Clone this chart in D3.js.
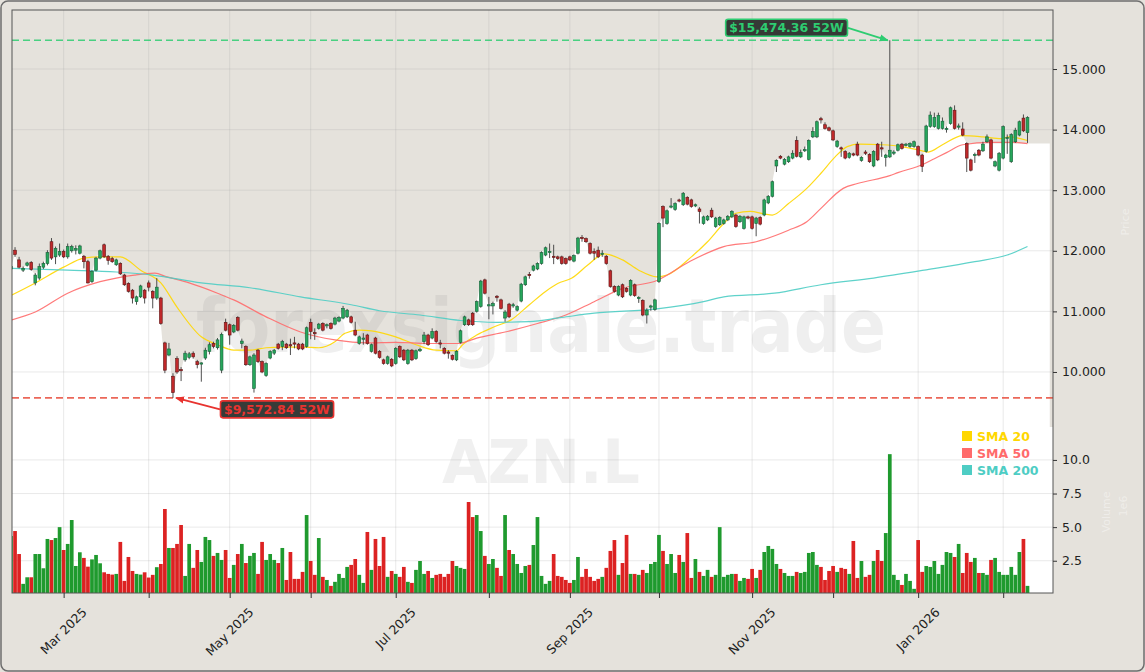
<!DOCTYPE html>
<html>
<head>
<meta charset="utf-8">
<title>AZN.L</title>
<script src="https://cdn.jsdelivr.net/npm/d3@7"></script>
<style>
  html, body { margin: 0; padding: 0; background: #e5e2dc; }
  svg { display: block; font-family: "DejaVu Sans", sans-serif; }
</style>
</head>
<body>
<svg id="chart" width="1145" height="672"></svg>
<script>
// daily bars, GBX, first bar 2025-02-12 (clipped at the left edge)
const opens = [
  11700, 12010, 11850, 11680, 11760, 11810, 11470, 11550, 11730, 11790,
  12150, 11900, 11930, 11990, 11900, 12000, 12010, 11960, 11910, 11820,
  11490, 11680, 11880, 12100, 11910, 11870, 11770, 11790, 11600, 11460,
  11350, 11160, 11240, 11350, 11470, 11330, 11220, 11220, 10480, 10280,
  9930, 10220, 10040, 10200, 10240, 10310, 10170, 10130, 10230, 10340,
  10470, 10400, 10030, 10820, 10780, 10660, 10900, 10470, 10420, 10120,
  9730, 10360, 10170, 9940, 10230, 10310, 10460, 10420, 10460, 10450,
  10480, 10460, 10460, 10420, 10820, 10650, 10720, 10800, 10760, 10800,
  10790, 10840, 10890, 10910, 10910, 10690, 10470, 10540, 10610, 10340,
  10560, 10340, 10200, 10140, 10210, 10140, 10420, 10360, 10140, 10360,
  10220, 10350, 10500, 10610, 10560, 10670, 10480, 10390, 10330, 10270,
  10200, 10490, 10780, 10860, 10970, 11000, 11080, 11520, 11090, 11090,
  11250, 11190, 10890, 11120, 11090, 11020, 11170, 11440, 11610, 11680,
  11700, 11790, 11930, 11970, 11910, 11900, 11900, 11870, 11900, 11830,
  11960, 12220, 12200, 12120, 11990, 12010, 11940, 11910, 11670, 11410,
  11270, 11440, 11380, 11270, 11440, 11210, 11180, 10940, 11070, 11030,
  11490, 12730, 12450, 12720, 12680, 12840, 12760, 12880, 12840, 12740,
  12690, 12450, 12510, 12670, 12400, 12430, 12450, 12510, 12560, 12590,
  12480, 12370, 12560, 12560, 12450, 12550, 12590, 12790, 12900, 13400,
  13560, 13430, 13470, 13530, 13820, 13550, 13650, 13510, 13880, 13880,
  14180, 14080, 14030, 13980, 13720, 13700, 13640, 13540, 13600, 13760,
  13490, 13630, 13590, 13400, 13760, 13700, 13540, 13550, 13610, 13660,
  13760, 13740, 13720, 13720, 13720, 13580, 13640, 14050, 14050, 14020,
  14020, 14000, 14100, 14320, 14040, 14010, 13770, 13500, 13570, 13660,
  13650, 13800, 13830, 13400, 13330, 13530, 13850, 13470, 13800, 13910,
  14190, 13950
];
const highs = [
  11780, 12060, 11900, 11740, 11820, 11830, 11630, 11790, 11820, 12010,
  12210, 12070, 12120, 12020, 12120, 12100, 12090, 12100, 11930, 11850,
  11680, 11900, 12020, 12120, 11930, 11900, 11870, 11810, 11620, 11480,
  11370, 11260, 11440, 11370, 11510, 11350, 11550, 11240, 10500, 10480,
  9980, 10260, 10080, 10350, 10330, 10340, 10200, 10160, 10400, 10490,
  10500, 10560, 10650, 10880, 10800, 10790, 10920, 10550, 10440, 10270,
  10310, 10380, 10190, 10160, 10360, 10380, 10480, 10530, 10480, 10550,
  10580, 10480, 10480, 10750, 10880, 10720, 10810, 10820, 10800, 10820,
  10910, 10920, 11090, 11040, 10930, 10830, 10600, 10640, 10630, 10470,
  10580, 10360, 10220, 10270, 10230, 10410, 10440, 10380, 10380, 10380,
  10370, 10400, 10660, 10630, 10720, 10690, 10530, 10410, 10360, 10290,
  10360, 10700, 10930, 10880, 10990, 11180, 11520, 11540, 11240, 11160,
  11270, 11210, 11020, 11140, 11140, 11100, 11470, 11590, 11650, 11770,
  11810, 11990, 12070, 12120, 12100, 11920, 11920, 11890, 11920, 11940,
  12230, 12260, 12220, 12140, 12040, 12070, 12010, 11930, 11690, 11430,
  11430, 11460, 11400, 11530, 11460, 11250, 11200, 11050, 11110, 11210,
  12470, 12750, 12680, 12870, 12800, 12860, 12970, 12900, 12860, 12780,
  12720, 12580, 12590, 12710, 12560, 12570, 12530, 12590, 12670, 12610,
  12590, 12580, 12580, 12580, 12560, 12570, 12860, 12920, 13160, 13510,
  13580, 13530, 13570, 13660, 13890, 13670, 13720, 13840, 14040, 14150,
  14210, 14120, 14050, 14000, 13830, 13720, 13660, 13630, 13620, 13800,
  13560, 13660, 13610, 13660, 13780, 13800, 13600, 15474.36, 13660, 13770,
  13780, 13780, 13790, 13820, 13740, 13600, 14080, 14300, 14280, 14280,
  14200, 14050, 14380, 14400, 14100, 14120, 13790, 13520, 13620, 13680,
  13800, 13920, 13850, 13490, 13630, 14070, 13920, 13940, 14030, 14150,
  14250, 14220
];
const lows = [
  11660, 11900, 11710, 11650, 11740, 11670, 11430, 11520, 11700, 11760,
  11850, 11780, 11900, 11880, 11870, 11970, 11940, 11940, 11710, 11460,
  11470, 11660, 11860, 11880, 11770, 11800, 11750, 11600, 11420, 11310,
  11130, 11110, 11220, 11130, 11330, 11050, 11190, 10780, 9980, 10260,
  9572.84, 9970, 9850, 10170, 10210, 10220, 10060, 9840, 10200, 10290,
  10390, 10370, 9980, 10670, 10450, 10640, 10670, 10390, 10100, 10100,
  9660, 10150, 9980, 9920, 10210, 10280, 10370, 10360, 10380, 10280,
  10390, 10360, 10360, 10400, 10540, 10530, 10700, 10670, 10720, 10700,
  10770, 10820, 10870, 10890, 10800, 10590, 10450, 10450, 10450, 10320,
  10290, 10220, 10120, 10120, 10080, 10120, 10230, 10180, 10120, 10180,
  10200, 10330, 10460, 10430, 10540, 10480, 10390, 10290, 10220, 10190,
  10180, 10470, 10760, 10760, 10760, 10980, 11060, 11280, 10870, 10950,
  11160, 11030, 10830, 10890, 11060, 11000, 11150, 11420, 11540, 11660,
  11680, 11770, 11910, 11880, 11780, 11850, 11770, 11770, 11830, 11810,
  11940, 12150, 12130, 11940, 11850, 11880, 11900, 11770, 11390, 11310,
  11250, 11220, 11310, 11250, 11240, 11140, 10920, 10800, 11010, 11010,
  11470, 12390, 12430, 12700, 12660, 12800, 12740, 12750, 12710, 12720,
  12450, 12430, 12490, 12540, 12380, 12410, 12430, 12490, 12540, 12380,
  12460, 12350, 12520, 12350, 12240, 12420, 12570, 12770, 12880, 13300,
  13510, 13410, 13450, 13510, 13540, 13530, 13630, 13490, 13860, 13860,
  14100, 14000, 13970, 13810, 13700, 13550, 13510, 13520, 13560, 13560,
  13470, 13580, 13450, 13380, 13480, 13550, 13390, 13530, 13580, 13640,
  13670, 13720, 13700, 13700, 13560, 13300, 13620, 14030, 14030, 14000,
  14000, 13950, 14080, 14000, 14000, 13890, 13300, 13310, 13450, 13560,
  13630, 13780, 13510, 13380, 13310, 13510, 13600, 13450, 13780, 13890,
  13960, 13780
];
const closes = [
  11740, 11940, 11730, 11710, 11800, 11690, 11600, 11740, 11790, 11970,
  11880, 12040, 11990, 11900, 12070, 12070, 12040, 12080, 11820, 11470,
  11660, 11880, 12000, 11900, 11840, 11820, 11850, 11620, 11440, 11330,
  11220, 11240, 11420, 11220, 11400, 11220, 11400, 10800, 10030, 10380,
  9660, 10000, 10020, 10310, 10300, 10250, 10120, 10150, 10360, 10450,
  10420, 10530, 10620, 10690, 10610, 10770, 10690, 10510, 10120, 10250,
  10280, 10170, 10000, 10140, 10340, 10360, 10390, 10500, 10400, 10430,
  10460, 10380, 10380, 10730, 10670, 10630, 10790, 10690, 10780, 10720,
  10890, 10900, 11050, 11020, 10820, 10610, 10580, 10560, 10470, 10450,
  10310, 10240, 10140, 10250, 10100, 10390, 10250, 10200, 10360, 10200,
  10350, 10370, 10610, 10450, 10670, 10500, 10460, 10310, 10310, 10210,
  10340, 10680, 10910, 10780, 10780, 11160, 11500, 11300, 11110, 11130,
  11230, 11050, 10990, 10910, 11110, 11080, 11450, 11570, 11590, 11750,
  11790, 11970, 12050, 11990, 11890, 11870, 11790, 11790, 11850, 11920,
  12210, 12200, 12150, 11960, 11960, 11900, 11960, 11790, 11410, 11330,
  11410, 11240, 11330, 11510, 11260, 11230, 10940, 11020, 11090, 11190,
  12450, 12540, 12660, 12740, 12780, 12820, 12950, 12770, 12730, 12760,
  12650, 12560, 12570, 12560, 12540, 12550, 12510, 12570, 12650, 12400,
  12570, 12560, 12540, 12370, 12540, 12440, 12840, 12900, 13140, 13490,
  13530, 13510, 13550, 13610, 13560, 13620, 13670, 13820, 13970, 14130,
  14160, 14020, 13990, 13830, 13810, 13680, 13530, 13610, 13580, 13580,
  13540, 13610, 13470, 13640, 13500, 13680, 13580, 13660, 13630, 13750,
  13690, 13760, 13770, 13800, 13580, 13390, 14060, 14240, 14200, 14230,
  14140, 14020, 14360, 14020, 14060, 13910, 13530, 13330, 13590, 13580,
  13760, 13880, 13530, 13470, 13610, 14050, 13870, 13920, 13990, 14130,
  13980, 14200
];
// volume, millions of shares
const volumes = [
  4.34, 4.71, 3.0, 0.78, 1.27, 1.27, 3.0, 3.0, 1.94, 4.12,
  4.04, 4.19, 5.0, 3.3, 3.75, 5.53, 2.11, 3.13, 2.71, 2.06,
  2.6, 2.93, 2.31, 1.64, 1.52, 1.47, 1.52, 3.9, 1.0, 2.78,
  1.74, 1.52, 1.47, 1.64, 1.25, 1.45, 2.02, 2.26, 6.35, 3.45,
  3.45, 3.75, 5.16, 1.37, 3.75, 1.97, 3.3, 2.41, 4.27, 4.04,
  2.86, 3.08, 2.56, 3.3, 1.22, 2.19, 3.0, 3.75, 2.33, 2.86,
  3.08, 1.52, 3.9, 2.56, 3.0, 2.56, 2.33, 3.45, 1.07, 3.15,
  1.15, 1.15, 1.67, 5.9, 2.48, 1.45, 4.19, 1.3, 1.07, 0.63,
  0.93, 1.52, 1.22, 2.04, 2.19, 2.63, 1.45, 0.85, 4.64, 1.82,
  4.12, 2.11, 4.27, 1.3, 1.74, 1.52, 1.3, 2.04, 0.93, 0.85,
  1.82, 2.48, 1.52, 1.74, 1.22, 1.45, 1.52, 1.3, 1.52, 2.48,
  2.11, 1.97, 1.89, 6.87, 5.75, 5.9, 4.71, 2.86, 2.26, 2.63,
  1.97, 1.37, 5.9, 3.3, 3.0, 2.26, 1.59, 2.11, 2.19, 3.67,
  5.75, 1.37, 0.78, 1.0, 3.0, 1.37, 1.3, 1.07, 0.85, 1.07,
  2.78, 1.3, 1.89, 1.3, 1.0, 1.15, 1.3, 1.97, 3.23, 4.04,
  1.45, 2.33, 4.42, 1.52, 1.52, 1.45, 1.82, 1.59, 2.26, 2.41,
  4.42, 3.23, 2.26, 3.0, 1.59, 2.93, 2.41, 4.56, 1.22, 2.63,
  1.67, 1.37, 1.82, 1.3, 1.45, 5.0, 1.3, 1.45, 1.52, 1.52,
  1.0, 1.22, 1.15, 1.89, 1.22, 1.82, 3.15, 3.6, 3.38, 2.26,
  1.89, 1.59, 1.37, 1.37, 1.67, 1.59, 1.67, 3.08, 3.15, 2.19,
  2.04, 1.07, 1.74, 2.11, 1.67, 1.97, 1.89, 1.52, 3.97, 1.22,
  2.48, 1.3, 1.45, 2.48, 3.3, 2.48, 4.56, 10.43, 1.45, 1.07,
  0.7, 1.52, 1.0, 0.41, 4.04, 1.67, 2.11, 2.04, 2.48, 1.52,
  2.19, 3.15, 3.08, 2.78, 3.75, 1.59, 3.08, 2.41, 2.71, 1.59,
  1.59, 1.45, 2.56, 2.71, 1.67, 1.45, 1.45, 2.04, 1.45, 3.15,
  4.12, 0.63
];
const firstDay = "2025-02-12";
const holidays = ["2025-04-18", "2025-04-21", "2025-05-05", "2025-05-26",
                  "2025-08-25", "2025-12-25", "2025-12-26", "2026-01-01"];

// moving averages: [bar index, value]
const sma20 = [
  [0.2, 11270], [6, 11470], [13, 11730], [18, 11880], [22, 11900], [27, 11900],
  [32, 11680], [37, 11470], [41, 11070], [47, 10580], [51, 10450], [55, 10360],
  [59, 10360], [63, 10400], [67, 10410], [72, 10410], [76, 10400], [80, 10500],
  [82.5, 10640], [86, 10690], [89, 10680], [95, 10580], [100, 10450], [105, 10360],
  [110, 10350], [111.5, 10450], [115, 10610], [119.5, 10750], [123.5, 10860],
  [128, 11110], [132, 11330], [135, 11460], [138.5, 11550], [142.5, 11770],
  [146.5, 11950], [151, 11850], [155, 11680], [159.5, 11570], [162, 11600],
  [168, 11900], [172, 12150], [176, 12450], [179, 12620], [182.5, 12650],
  [186, 12610], [188, 12590], [192, 12780], [196.5, 13030], [200, 13280],
  [203.5, 13550], [206.5, 13720], [209.5, 13760], [215, 13750], [220, 13720],
  [225, 13650], [226.5, 13630], [230, 13750], [235, 13900], [240, 13880],
  [244.5, 13850], [246.5, 13880], [251, 13820]
];
const sma50 = [
  [0.2, 10860], [6, 10990], [14, 11300], [22, 11490], [30.5, 11600], [35.5, 11630],
  [38.5, 11570], [44, 11470], [51, 11300], [55, 11190], [63, 10910], [71.5, 10660],
  [80, 10530], [88, 10480], [95, 10490], [103, 10470], [110.5, 10470], [115, 10560],
  [122, 10660], [130, 10800], [137, 10940], [144, 11160], [151, 11380], [159.5, 11510],
  [167.5, 11820], [176, 12070], [184, 12150], [192, 12340], [196.5, 12480],
  [200, 12700], [205.5, 13030], [209, 13110], [217, 13240], [219, 13290],
  [225, 13420], [228, 13520], [231, 13620], [235, 13750], [242, 13790],
  [247.5, 13790], [251, 13770]
];
const sma200 = [
  [0.2, 11710], [14, 11680], [26, 11650], [35, 11600], [47, 11470], [59, 11390],
  [71.5, 11240], [84, 11110], [91, 11010], [101, 10940], [111, 10850], [120, 10820],
  [128, 10830], [136, 10900], [144, 10970], [159.5, 11040], [171, 11160],
  [176, 11240], [188.5, 11300], [200, 11440], [213, 11550], [225.5, 11680],
  [238, 11820], [246, 11930], [251, 12070]
];
const smaNames = ["SMA 20", "SMA 50", "SMA 200"];
const smaColors = ["#FFD700", "#FF6B6B", "#4ECDC4"];

const high52 = 15474.36, high52Idx = 217;
const low52 = 9572.84, low52Idx = 40;
const priceTicks = [10000, 11000, 12000, 13000, 14000, 15000];
const volTicks = [2.5, 5, 7.5, 10];
// white fill under price runs flat over the last bars
const fillTailStart = 236, fillTailLevel = 13770, fillTailEnd = 256.5;

const W = 1145, H = 672;
const box = {left: 12, right: 1053, top: 10, split: 427, bottom: 593};

// trading days
const dates = [];
for (let d = new Date(firstDay + "T00:00:00Z"); dates.length < closes.length; d.setUTCDate(d.getUTCDate() + 1)) {
    const wd = d.getUTCDay();
    if (wd === 0 || wd === 6 || holidays.includes(d.toISOString().slice(0, 10))) continue;
    dates.push(new Date(d));
}
const monthStarts = d3.range(1, dates.length).filter(k => dates[k].getUTCMonth() !== dates[k - 1].getUTCMonth());

const x = d3.scaleLinear().domain([0.25, 257.3]).range([box.left, box.right]);
const y = d3.scaleLinear().domain([9092, 15974]).range([box.split, box.top]);
const yv = d3.scaleLinear().domain([0.1, 12.45]).range([box.bottom, box.split]);

const svg = d3.select("#chart");
const defs = svg.append("defs");
defs.append("clipPath").attr("id", "clipPrice").append("rect")
    .attr("x", box.left).attr("y", box.top)
    .attr("width", box.right - box.left).attr("height", box.split - box.top);
defs.append("clipPath").attr("id", "clipVol").append("rect")
    .attr("x", box.left).attr("y", box.split)
    .attr("width", box.right - box.left).attr("height", box.bottom - box.split);
[["arrowGreen", "#2ecc71"], ["arrowRed", "#e8332f"]].forEach(([id, c]) => {
    defs.append("marker").attr("id", id)
        .attr("viewBox", "0 0 10 10").attr("refX", 9).attr("refY", 5)
        .attr("markerWidth", 9).attr("markerHeight", 9)
        .attr("markerUnits", "userSpaceOnUse").attr("orient", "auto")
        .append("path").attr("d", "M0,1 L10,5 L0,9 Z").attr("fill", c);
});

// figure background
svg.append("rect").attr("x", 1).attr("y", 1).attr("width", W - 2).attr("height", H - 2)
    .attr("rx", 7).attr("fill", "#e5e2dc").attr("stroke", "#6e6e6e").attr("stroke-width", 1.5);

// volume panel background
svg.append("rect").attr("x", box.left).attr("y", box.split)
    .attr("width", box.right - box.left).attr("height", box.bottom - box.split)
    .attr("fill", "#ffffff");

// white area under the price
const fillPts = d3.range(closes.length).map(k => [k, k < fillTailStart ? closes[k] : fillTailLevel]);
fillPts.push([fillTailEnd, fillTailLevel]);
svg.append("path")
    .attr("clip-path", "url(#clipPrice)")
    .attr("fill", "#ffffff")
    .attr("d", d3.area().x(d => x(d[0])).y0(box.split).y1(d => y(d[1]))(fillPts));

// grid
const grid = svg.append("g").attr("stroke", "#a9a9a9").attr("stroke-opacity", 0.32).attr("stroke-width", 0.8);
grid.selectAll("line.gx").data(monthStarts).join("line")
    .attr("x1", k => x(k)).attr("x2", k => x(k)).attr("y1", box.top).attr("y2", box.bottom);
grid.selectAll("line.gy").data(priceTicks).join("line")
    .attr("x1", box.left).attr("x2", box.right).attr("y1", d => y(d)).attr("y2", d => y(d));
grid.selectAll("line.gv").data(volTicks).join("line")
    .attr("x1", box.left).attr("x2", box.right).attr("y1", d => yv(d)).attr("y2", d => yv(d));

// watermark
svg.append("text").attr("x", 541).attr("y", 352).attr("text-anchor", "middle")
    .attr("font-size", 75).attr("font-weight", "bold")
    .attr("textLength", 690).attr("lengthAdjust", "spacingAndGlyphs")
    .attr("fill", "#7a7a7a").attr("fill-opacity", 0.12).text("forexsignale.trade");
svg.append("text").attr("x", 541).attr("y", 483).attr("text-anchor", "middle")
    .attr("font-size", 61).attr("font-weight", "bold")
    .attr("textLength", 198).attr("lengthAdjust", "spacingAndGlyphs")
    .attr("fill", "#7a7a7a").attr("fill-opacity", 0.11).text("AZN.L");

// 52 week lines
const pricePanel = svg.append("g").attr("clip-path", "url(#clipPrice)");
pricePanel.append("line").attr("x1", box.left).attr("x2", box.right)
    .attr("y1", y(high52)).attr("y2", y(high52))
    .attr("stroke", "#2ecc71").attr("stroke-opacity", 0.85).attr("stroke-width", 1.6).attr("stroke-dasharray", "7,4");
pricePanel.append("line").attr("x1", box.left).attr("x2", box.right)
    .attr("y1", y(low52)).attr("y2", y(low52))
    .attr("stroke", "#e74c3c").attr("stroke-opacity", 0.85).attr("stroke-width", 1.6).attr("stroke-dasharray", "7,4");

// moving averages
const smaLine = d3.line().x(d => x(d[0])).y(d => y(d[1])).curve(d3.curveMonotoneX);
[sma20, sma50, sma200].forEach((s, i) => {
    pricePanel.append("path").attr("d", smaLine(s)).attr("fill", "none")
        .attr("stroke", smaColors[i]).attr("stroke-width", 1.2).attr("stroke-opacity", 0.9);
});

// candles
const bodyW = 2.8;
const up = k => closes[k] >= opens[k];
const candles = pricePanel.append("g").selectAll("g").data(d3.range(closes.length)).join("g");
candles.append("line")
    .attr("x1", k => x(k)).attr("x2", k => x(k))
    .attr("y1", k => y(highs[k])).attr("y2", k => y(lows[k]))
    .attr("stroke", "#3b3b3b").attr("stroke-width", 0.9);
candles.append("rect")
    .attr("x", k => x(k) - bodyW / 2).attr("width", bodyW)
    .attr("y", k => y(Math.max(opens[k], closes[k])))
    .attr("height", k => Math.max(0.9, Math.abs(y(opens[k]) - y(closes[k]))))
    .attr("fill", k => up(k) ? "#26a65b" : "#c0282a")
    .attr("stroke", k => up(k) ? "#17603a" : "#5e1515").attr("stroke-width", 0.6);

// volume bars
svg.append("g").attr("clip-path", "url(#clipVol)")
    .selectAll("rect").data(d3.range(volumes.length)).join("rect")
    .attr("x", k => x(k) - 1.85).attr("width", 3.7)
    .attr("y", k => yv(volumes[k])).attr("height", k => box.bottom - yv(volumes[k]))
    .attr("fill", k => up(k) ? "#1f9a2e" : "#dc2222");

// frame
svg.append("rect").attr("x", box.left).attr("y", box.top)
    .attr("width", box.right - box.left).attr("height", box.bottom - box.top)
    .attr("fill", "none").attr("stroke", "#555").attr("stroke-width", 1);

// axes
const fmtPrice = v => d3.format(",.0f")(v).replace(/,/g, ".");
const styleAxis = g => {
    g.select(".domain").remove();
    g.selectAll(".tick line").attr("stroke", "#333");
    g.selectAll(".tick text").attr("fill", "#222").attr("font-size", 12.5).attr("font-family", "DejaVu Sans");
};
svg.append("g").attr("transform", `translate(${box.right},0)`)
    .call(d3.axisRight(y).tickValues(priceTicks).tickFormat(fmtPrice).tickSize(4).tickPadding(5))
    .call(styleAxis);
svg.append("g").attr("transform", `translate(${box.right},0)`)
    .call(d3.axisRight(yv).tickValues(volTicks).tickFormat(d3.format(".1f")).tickSize(4).tickPadding(5))
    .call(styleAxis);
svg.append("g").attr("transform", `translate(0,${box.bottom})`)
    .call(d3.axisBottom(x).tickValues(monthStarts).tickFormat("").tickSize(5))
    .call(styleAxis);

const fmtMonth = d3.utcFormat("%b %Y");
const labelled = monthStarts.filter(k => dates[k].getUTCMonth() % 2 === 0);
svg.append("g").selectAll("text").data(labelled).join("text")
    .attr("font-size", 12.5).attr("fill", "#222").attr("text-anchor", "end")
    .text(k => fmtMonth(dates[k]))
    .each(function (k) {
        const len = this.getComputedTextLength();
        const ax = x(k) + len * 0.707 / 2 + 3;
        d3.select(this).attr("transform", `translate(${ax},${box.bottom + 20}) rotate(-45)`);
    });

// faint axis titles
svg.append("text").attr("transform", "translate(1129,222) rotate(-90)").attr("text-anchor", "middle")
    .attr("font-size", 11).attr("fill", "#ffffff").attr("fill-opacity", 0.4).text("Price");
svg.append("text").attr("transform", "translate(1110,512) rotate(-90)").attr("text-anchor", "middle")
    .attr("font-size", 11).attr("fill", "#ffffff").attr("fill-opacity", 0.4).text("Volume");
svg.append("text").attr("transform", "translate(1127,506) rotate(-90)").attr("text-anchor", "middle")
    .attr("font-size", 11).attr("fill", "#ffffff").attr("fill-opacity", 0.4).text("1e6");

// 52 week annotations
function tag(px, py, tx, ty, anchor, label, color, marker) {
    const g = svg.append("g");
    const t = g.append("text").attr("x", tx).attr("y", ty).attr("text-anchor", anchor)
        .attr("font-size", 12.5).attr("font-weight", "bold").attr("fill", color).text(label);
    const b = t.node().getBBox();
    g.insert("rect", "text").attr("x", b.x - 3.5).attr("y", b.y - 1).attr("width", b.width + 7).attr("height", b.height + 2)
        .attr("rx", 2.5).attr("fill", "#262a27").attr("fill-opacity", 0.92)
        .attr("stroke", color).attr("stroke-width", 1.6);
    const sx = anchor === "end" ? b.x + b.width + 4 : b.x - 4;
    g.append("line").attr("x1", sx).attr("y1", b.y + b.height / 2).attr("x2", px).attr("y2", py)
        .attr("stroke", color).attr("stroke-width", 1.8).attr("marker-end", `url(#${marker})`);
}
const hx = x(high52Idx), hy = y(high52);
tag(hx - 2, hy, hx - 46, hy - 8, "end", "$15,474.36 52W", "#2ecc71", "arrowGreen");
const lx = x(low52Idx), ly = y(low52);
tag(lx + 3, ly, lx + 51, ly + 16, "start", "$9,572.84 52W", "#e8332f", "arrowRed");

// legend
const legend = svg.append("g").attr("transform", "translate(962,431)");
smaNames.forEach((name, i) => {
    legend.append("rect").attr("x", 0).attr("y", i * 17).attr("width", 10).attr("height", 10).attr("fill", smaColors[i]);
    legend.append("text").attr("x", 15).attr("y", i * 17 + 10).attr("font-size", 12.5).attr("font-weight", "bold")
        .attr("fill", smaColors[i]).text(name);
});
</script>
</body>
</html>
